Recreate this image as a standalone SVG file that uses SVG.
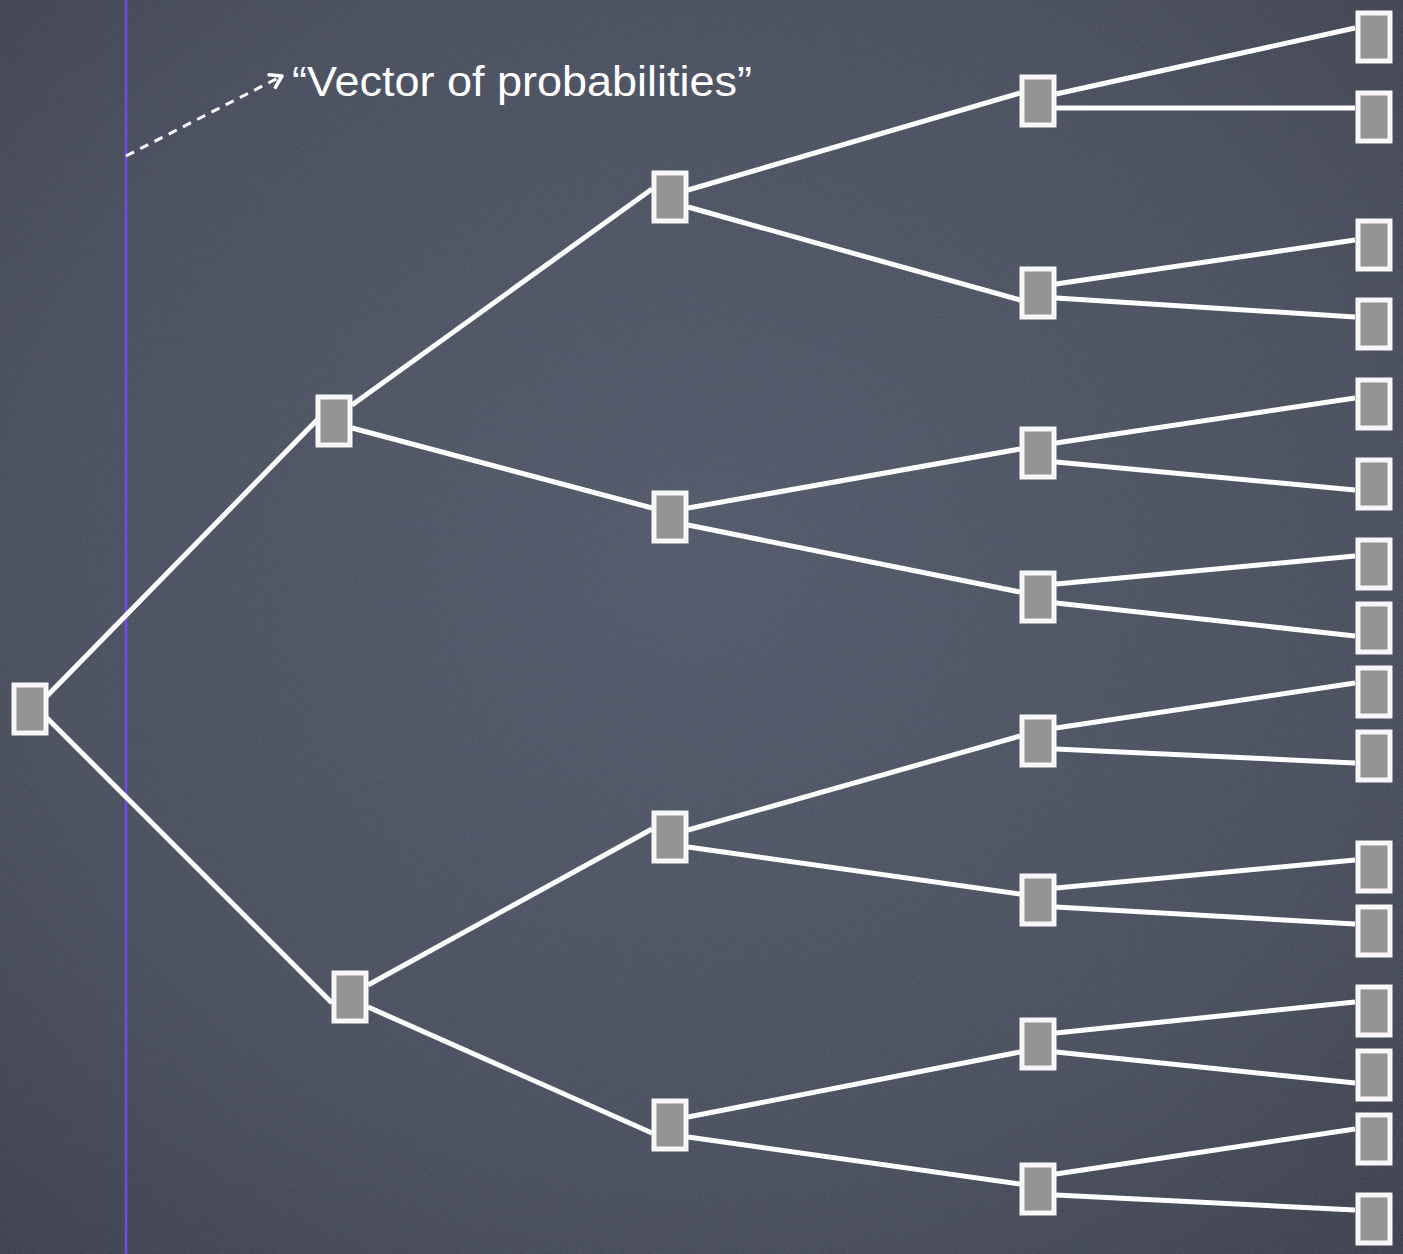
<svg xmlns="http://www.w3.org/2000/svg" width="1403" height="1254" viewBox="0 0 1403 1254">
  <defs>
    <radialGradient id="bg" cx="0.5" cy="0.45" r="0.8">
      <stop offset="0" stop-color="#4f5667"/>
      <stop offset="0.6" stop-color="#464c5c"/>
      <stop offset="1" stop-color="#363a46"/>
    </radialGradient>
    <filter id="chalk" x="0" y="0" width="100%" height="100%">
      <feTurbulence type="fractalNoise" baseFrequency="0.9" numOctaves="2" seed="3" result="n"/>
      <feColorMatrix in="n" type="matrix" values="0 0 0 0 1  0 0 0 0 1  0 0 0 0 1  0 0 0 0.12 -0.02"/>
    </filter>
    <marker id="arrowhead" markerWidth="20" markerHeight="20" refX="13" refY="10" orient="auto" markerUnits="userSpaceOnUse">
      <path d="M2,3 L13,10 L2,17" fill="none" stroke="#ffffff" stroke-width="3.5" stroke-linecap="round" stroke-linejoin="round"/>
    </marker>
    <style>
      .edge { stroke: #ffffff; stroke-width: 5; fill: none; stroke-linecap: butt; }
      .node rect { fill: #939393; stroke: #f7f7f7; stroke-width: 5; }
      .label { font-family: "Liberation Sans", "DejaVu Sans", sans-serif; font-size: 42px; fill: #ffffff; }
    </style>
  </defs>

  <rect x="0" y="0" width="1403" height="1254" fill="url(#bg)"/>
  <rect x="0" y="0" width="1403" height="1254" filter="url(#chalk)"/>

  <line x1="126" y1="0" x2="126" y2="1254" stroke="#7248f5" stroke-width="2.5"/>

  <g id="annotation">
    <line x1="126" y1="156" x2="282" y2="76" stroke="#ffffff" stroke-width="3" stroke-dasharray="9 7" marker-end="url(#arrowhead)"/>
    <text class="label" x="292" y="96" textLength="460" lengthAdjust="spacingAndGlyphs">“Vector of probabilities”</text>
  </g>

  <g id="connectors">
    <line class="edge" x1="46" y1="697" x2="318" y2="419"/>
    <line class="edge" x1="46" y1="717" x2="332" y2="1003"/>
    <line class="edge" x1="352" y1="405" x2="652" y2="189"/>
    <line class="edge" x1="352" y1="428" x2="652" y2="508"/>
    <line class="edge" x1="368" y1="985" x2="652" y2="829"/>
    <line class="edge" x1="368" y1="1007" x2="652" y2="1133"/>
    <line class="edge" x1="688" y1="190" x2="1020" y2="93"/>
    <line class="edge" x1="688" y1="207" x2="1020" y2="300"/>
    <line class="edge" x1="688" y1="508" x2="1020" y2="449"/>
    <line class="edge" x1="688" y1="525" x2="1020" y2="592"/>
    <line class="edge" x1="688" y1="830" x2="1020" y2="736"/>
    <line class="edge" x1="688" y1="847" x2="1020" y2="894"/>
    <line class="edge" x1="688" y1="1117" x2="1020" y2="1052"/>
    <line class="edge" x1="688" y1="1137" x2="1020" y2="1184"/>
    <line class="edge" x1="1056" y1="94" x2="1355" y2="28"/>
    <line class="edge" x1="1056" y1="108" x2="1355" y2="108"/>
    <line class="edge" x1="1056" y1="284" x2="1355" y2="240"/>
    <line class="edge" x1="1056" y1="298" x2="1355" y2="317"/>
    <line class="edge" x1="1056" y1="443" x2="1355" y2="398"/>
    <line class="edge" x1="1056" y1="462" x2="1355" y2="490"/>
    <line class="edge" x1="1056" y1="584" x2="1355" y2="556"/>
    <line class="edge" x1="1056" y1="603" x2="1355" y2="636"/>
    <line class="edge" x1="1056" y1="728" x2="1355" y2="683"/>
    <line class="edge" x1="1056" y1="749" x2="1355" y2="763"/>
    <line class="edge" x1="1056" y1="888" x2="1355" y2="860"/>
    <line class="edge" x1="1056" y1="907" x2="1355" y2="924"/>
    <line class="edge" x1="1056" y1="1033" x2="1355" y2="1002"/>
    <line class="edge" x1="1056" y1="1052" x2="1355" y2="1083"/>
    <line class="edge" x1="1056" y1="1174" x2="1355" y2="1129"/>
    <line class="edge" x1="1056" y1="1195" x2="1355" y2="1210"/>
  </g>

  <g id="n-root" class="node"><rect x="14" y="685" width="32" height="48"/></g>
  <g id="n-a" class="node"><rect x="318" y="397" width="32" height="48"/></g>
  <g id="n-b" class="node"><rect x="334" y="973" width="32" height="48"/></g>

  <g id="n-aa" class="node"><rect x="654" y="173" width="32" height="48"/></g>
  <g id="n-ab" class="node"><rect x="654" y="493" width="32" height="48"/></g>
  <g id="n-ba" class="node"><rect x="654" y="813" width="32" height="48"/></g>
  <g id="n-bb" class="node"><rect x="654" y="1101" width="32" height="48"/></g>

  <g id="n-aaa" class="node"><rect x="1022" y="77" width="32" height="48"/></g>
  <g id="n-aab" class="node"><rect x="1022" y="269" width="32" height="48"/></g>
  <g id="n-aba" class="node"><rect x="1022" y="429" width="32" height="48"/></g>
  <g id="n-abb" class="node"><rect x="1022" y="573" width="32" height="48"/></g>
  <g id="n-baa" class="node"><rect x="1022" y="717" width="32" height="48"/></g>
  <g id="n-bab" class="node"><rect x="1022" y="876" width="32" height="48"/></g>
  <g id="n-bba" class="node"><rect x="1022" y="1020" width="32" height="48"/></g>
  <g id="n-bbb" class="node"><rect x="1022" y="1165" width="32" height="48"/></g>

  <g id="leaf-1" class="node"><rect x="1358" y="13" width="32" height="48"/></g>
  <g id="leaf-2" class="node"><rect x="1358" y="93" width="32" height="48"/></g>
  <g id="leaf-3" class="node"><rect x="1358" y="221" width="32" height="48"/></g>
  <g id="leaf-4" class="node"><rect x="1358" y="300" width="32" height="48"/></g>
  <g id="leaf-5" class="node"><rect x="1358" y="380" width="32" height="48"/></g>
  <g id="leaf-6" class="node"><rect x="1358" y="460" width="32" height="48"/></g>
  <g id="leaf-7" class="node"><rect x="1358" y="540" width="32" height="48"/></g>
  <g id="leaf-8" class="node"><rect x="1358" y="604" width="32" height="48"/></g>
  <g id="leaf-9" class="node"><rect x="1358" y="668" width="32" height="48"/></g>
  <g id="leaf-10" class="node"><rect x="1358" y="732" width="32" height="48"/></g>
  <g id="leaf-11" class="node"><rect x="1358" y="843" width="32" height="48"/></g>
  <g id="leaf-12" class="node"><rect x="1358" y="907" width="32" height="48"/></g>
  <g id="leaf-13" class="node"><rect x="1358" y="987" width="32" height="48"/></g>
  <g id="leaf-14" class="node"><rect x="1358" y="1051" width="32" height="48"/></g>
  <g id="leaf-15" class="node"><rect x="1358" y="1115" width="32" height="48"/></g>
  <g id="leaf-16" class="node"><rect x="1358" y="1195" width="32" height="48"/></g>
</svg>
